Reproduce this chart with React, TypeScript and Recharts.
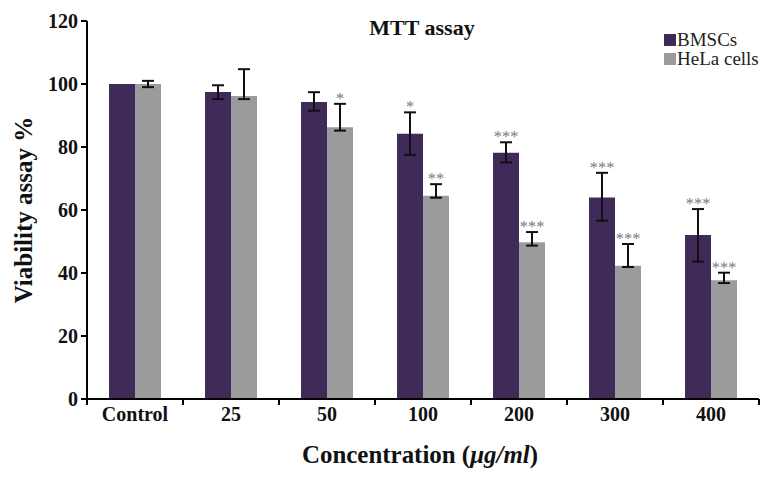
import React from 'react';
import { BarChart, Bar, XAxis, YAxis, ErrorBar, LabelList, Legend, Label } from 'recharts';

const categories = ['Control', '25', '50', '100', '200', '300', '400'];
const bmscValues = [100, 97.5, 94.3, 84.2, 78.2, 64.0, 52.1];
const helaValues = [100, 96.2, 86.3, 64.5, 49.8, 42.3, 37.7];
const bmscErrors: (number[] | null)[] = [null, [2.3, 2.1], [2.8, 3.1], [6.7, 6.8], [3.1, 3.3], [7.4, 7.8], [8.5, 8.2]];
const helaErrors: (number[] | null)[] = [[1, 1], [1.0, 8.5], [1.1, 7.4], [0.6, 3.7], [1.1, 3.2], [0.4, 6.9], [0.9, 2.4]];
const bmscStars = ['', '', '', '*', '***', '***', '***'];
const helaStars = ['', '', '*', '**', '***', '***', '***'];
const yTicks = [0, 20, 40, 60, 80, 100, 120];

const seriesNames = ['BMSCs', 'HeLa cells'];
const PURPLE = '#3f2a5a';
const GREY = '#9b9b9b';
const FONT = '"Liberation Serif", "Times New Roman", serif';

const data = categories.map((c, i) => ({
  name: c,
  bmsc: bmscValues[i],
  hela: helaValues[i],
  bErr: bmscErrors[i],
  hErr: helaErrors[i],
}));

const W = 764;
const H = 477;
const MARGIN = { top: 21, right: 5, left: 0, bottom: 0 };
const Y_W = 87;
const X_H = 78;
const PLOT_W = W - MARGIN.left - MARGIN.right - Y_W;
const BAND = PLOT_W / categories.length;
const AXIS_Y = H - X_H;

const XTick = (props: any) => {
  const { x, payload, index } = props;
  const half = BAND / 2;
  return (
    <g>
      <line x1={x - half} x2={x - half} y1={AXIS_Y} y2={AXIS_Y + 6} stroke="#000" strokeWidth={2} />
      {index === categories.length - 1 && (
        <line x1={x + half} x2={x + half} y1={AXIS_Y} y2={AXIS_Y + 6} stroke="#000" strokeWidth={2} />
      )}
      <text x={x} y={AXIS_Y + 22} textAnchor="middle" fontFamily={FONT} fontWeight="bold" fontSize={20} fill="#111">
        {payload.value}
      </text>
    </g>
  );
};

const makeStars = (values: number[], errors: (number[] | null)[], stars: string[]) => (props: any) => {
  const { x, y, width, height, index } = props;
  const s = stars[index];
  if (!s) return null;
  const v = values[index];
  const e = errors[index];
  const hi = e ? e[1] : 0;
  const pxPerUnit = Number(height) / v;
  const top = Number(y) - hi * pxPerUnit;
  return (
    <text
      x={Number(x) + Number(width) / 2}
      y={top}
      textAnchor="middle"
      fontFamily={FONT}
      fontSize={16.5}
      fill="#7a7a7a"
    >
      {s}
    </text>
  );
};

const LegendContent = () => (
  <div style={{ fontFamily: FONT, fontSize: 19, color: '#222', lineHeight: '19px' }}>
    {[PURPLE, GREY].map((col, i) => (
      <div key={i} style={{ display: 'flex', alignItems: 'center', height: 19 }}>
        <span style={{ display: 'inline-block', width: 12, height: 12, background: col, marginRight: 1 }} />
        <span>{seriesNames[i]}</span>
      </div>
    ))}
  </div>
);

const YLabel = (props: any) => {
  const vb = props.viewBox;
  const cx = vb.x + 23;
  const cy = vb.y + vb.height / 2;
  return (
    <text
      x={cx}
      y={cy}
      transform={`rotate(-90, ${cx}, ${cy})`}
      textAnchor="middle"
      dominantBaseline="central"
      fontFamily={FONT}
      fontWeight="bold"
      fontSize={25}
      fill="#111"
    >
      Viability assay %
    </text>
  );
};

const XLabel = (props: any) => {
  const vb = props.viewBox;
  return (
    <text
      x={vb.x + vb.width / 2 - 3}
      y={vb.y + 64}
      textAnchor="middle"
      fontFamily={FONT}
      fontWeight="bold"
      fontSize={25}
      fill="#111"
      textLength={236}
      lengthAdjust="spacingAndGlyphs"
    >
      Concentration (<tspan fontStyle="italic">μg/ml</tspan>)
    </text>
  );
};

export default function App() {
  return (
    <div style={{ position: 'absolute', left: 0, top: 0, width: W, height: H, background: '#fff' }}>
      <div
        style={{
          position: 'absolute',
          left: 0,
          width: 844,
          top: 15,
          textAlign: 'center',
          fontFamily: FONT,
          fontWeight: 'bold',
          fontSize: 22,
          color: '#111',
          lineHeight: '26px',
          zIndex: 2,
        }}
      >
        MTT assay
      </div>
      <BarChart width={W} height={H} data={data} margin={MARGIN} barGap={0} barCategoryGap={22}>
        <XAxis
          dataKey="name"
          height={X_H}
          tickLine={false}
          axisLine={{ stroke: '#000', strokeWidth: 2 }}
          tick={<XTick />}
          interval={0}
        >
          <Label content={<XLabel />} />
        </XAxis>
        <YAxis
          width={Y_W}
          domain={[0, 120]}
          ticks={yTicks}
          interval={0}
          tickSize={6}
          tickMargin={3}
          axisLine={{ stroke: '#000', strokeWidth: 2 }}
          tickLine={{ stroke: '#000', strokeWidth: 2 }}
          tick={{ fontFamily: FONT, fontWeight: 'bold', fontSize: 20, fill: '#111' }}
        >
          <Label content={<YLabel />} />
        </YAxis>
        <Legend
          layout="horizontal"
          verticalAlign="middle"
          align="center"
          content={<LegendContent />}
          wrapperStyle={{ position: 'absolute', left: 664, top: 30, width: 100 }}
        />
        <Bar dataKey="bmsc" name={seriesNames[0]} fill={PURPLE} isAnimationActive={false}>
          <ErrorBar dataKey="bErr" width={6} strokeWidth={2} stroke="#111" direction="y" isAnimationActive={false} />
          <LabelList dataKey="bmsc" content={makeStars(bmscValues, bmscErrors, bmscStars)} />
        </Bar>
        <Bar dataKey="hela" name={seriesNames[1]} fill={GREY} isAnimationActive={false}>
          <ErrorBar dataKey="hErr" width={6} strokeWidth={2} stroke="#111" direction="y" isAnimationActive={false} />
          <LabelList dataKey="hela" content={makeStars(helaValues, helaErrors, helaStars)} />
        </Bar>
      </BarChart>
    </div>
  );
}
